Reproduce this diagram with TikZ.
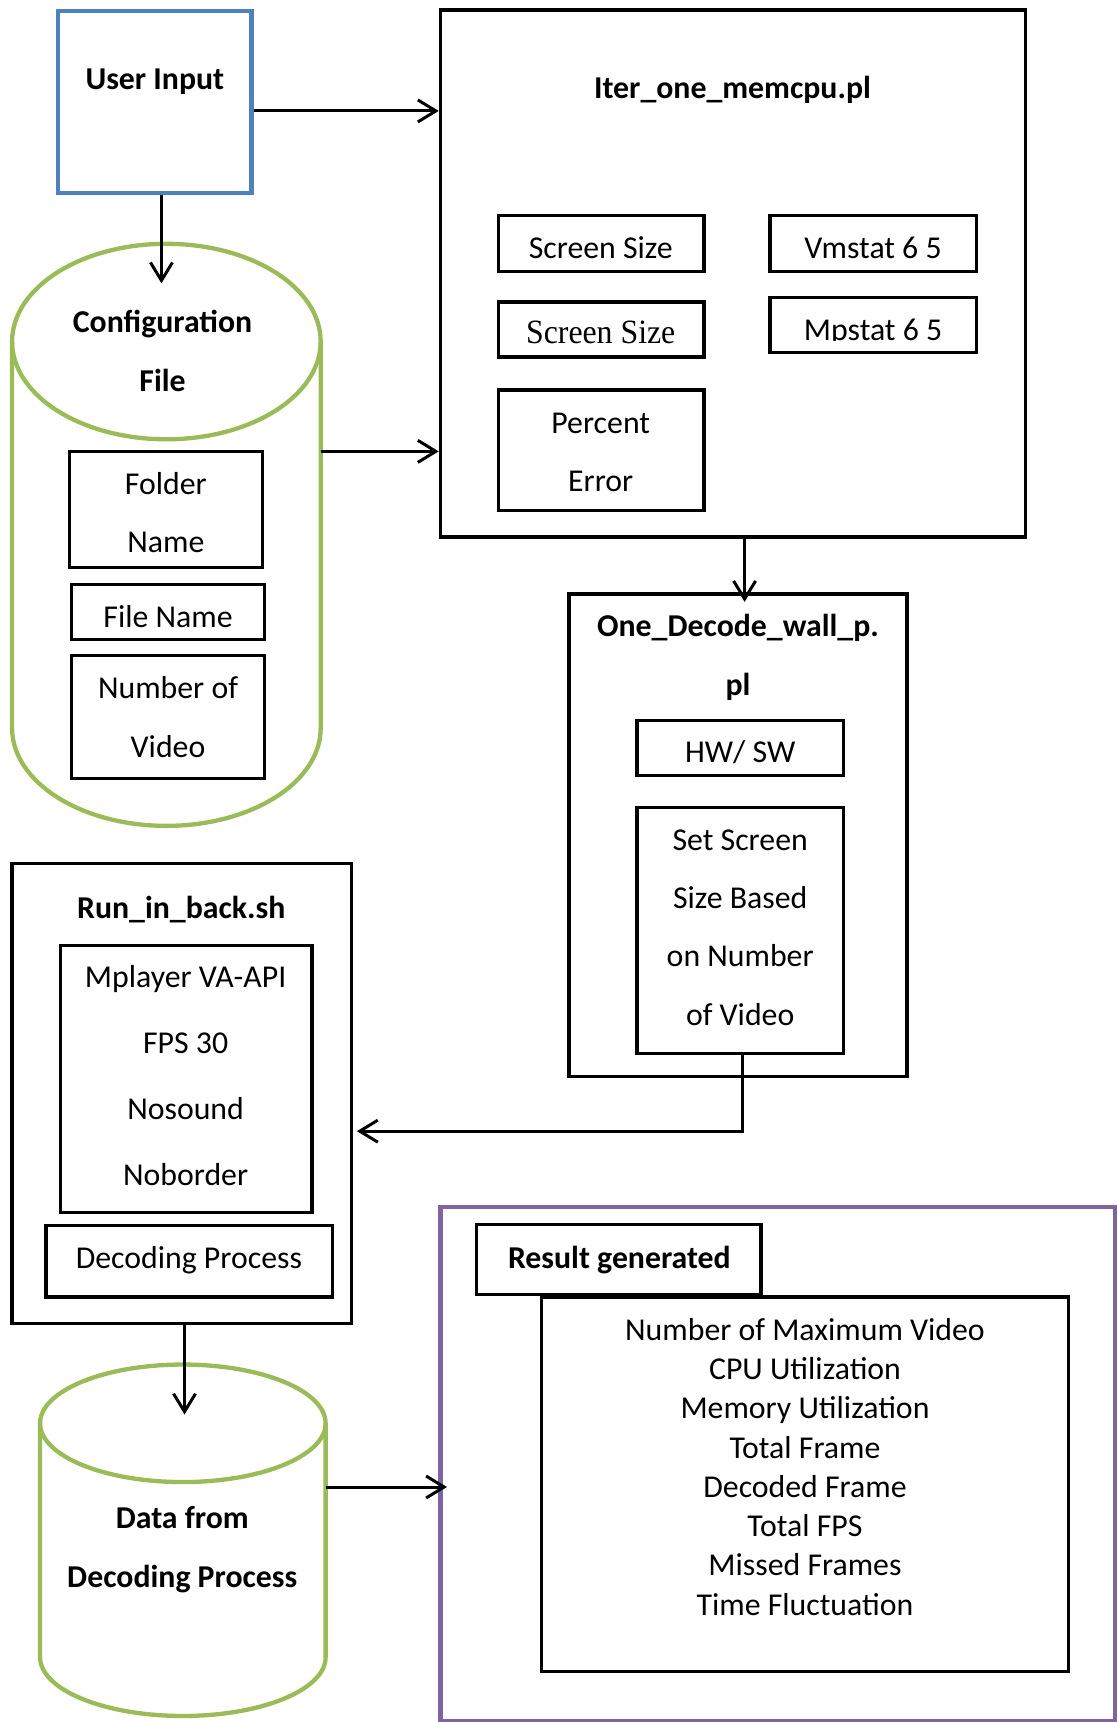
\documentclass[tikz,border=0pt]{standalone}
\usepackage{fontspec}
\setmainfont{Carlito}
\newfontfamily\timesfont{Liberation Serif}
\usetikzlibrary{arrows.meta,fit}
\definecolor{uiblue}{HTML}{4F81BD}
\definecolor{cylgreen}{HTML}{9BBB59}
\definecolor{respurple}{HTML}{8064A2}
\begin{document}
\begin{tikzpicture}[x=0.5491pt,y=-0.5491pt,
  box/.style={draw, line width=1.65pt, inner sep=0pt},
  txt/.style={inner sep=0pt, font=\fontsize{15.9}{19}\selectfont, text height=10.25pt, text depth=0pt},
  ttl/.style={txt, font=\fontsize{15.9}{19}\selectfont\bfseries},
  cyl/.style={draw=cylgreen, line width=2.15pt},
  arr/.style={line width=1.5pt, -{Straight Barb[length=9pt,width=11pt]}}]
\useasboundingbox (0,0) rectangle (1018,1568);

% ---- user input ----
\node[box, fit={(53,10) (229,176)}, draw=uiblue, line width=2.15pt] (ui) {};
\node[ttl] (uit) at (141,72) {User Input};

% ---- configuration file (cylinder) ----
\draw[cyl] (151.5,311) ellipse [x radius=140.5, y radius=89];
\draw[cyl] (11,311) -- (11,663) arc [start angle=180, end angle=0, x radius=140.5, y radius=89] -- (292,311);
\node[inner sep=0pt, fit={(11,222) (292,752)}] (cfg) {};
\node[ttl] (cfgt1) at (148,293) {Configuration};
\node[ttl] (cfgt2) at (148,347) {File};

\node[box, fit={(63,411) (239,517)}] (folder) {};
\node[txt] (foldert1) at (151,441) {Folder};
\node[txt] (foldert2) at (151,494) {Name};
\node[box, fit={(65,532) (241,582)}] (file) {};
\node[txt] (filet) at (153,562) {File Name};
\node[box, fit={(65,597) (241,709)}] (nvid) {};
\node[txt] (nvidt1) at (153,627) {Number of};
\node[txt] (nvidt2) at (153,680) {Video};

% ---- Iter_one_memcpu.pl ----
\node[box, fit={(401,9) (934,489)}] (iter) {};
\node[ttl] (itert) at (667,80) {Iter\_one\_memcpu.pl};
\node[box, fit={(454,196) (641,247)}] (ss1) {};
\node[txt] (ss1t) at (547,226) {Screen Size};
\node[box, fit={(454,275) (641,325)}] (ss2) {};
\node[txt, font=\fontsize{15.9}{19}\selectfont\timesfont] (ss2t) at (547,303.5) {\scalebox{1}[1.07]{Screen Size}};
\node[box, fit={(454,355) (641,465)}] (perr) {};
\node[txt] (perrt1) at (547,385) {Percent};
\node[txt] (perrt2) at (547,438) {Error};
\node[box, fit={(701,196) (889,247)}] (vm) {};
\node[txt] (vmt) at (795,226) {Vmstat 6 5};
\node[box, fit={(701,271) (889,321)}] (mp) {};
\begin{scope}
  \clip (701,271) rectangle (889,310.3);
  \node[txt] (mpt) at (795,301) {Mpstat 6 5};
\end{scope}

% ---- One_Decode_wall_p.pl ----
\node[box, fit={(518,541) (826,980)}] (od) {};
\node[ttl] (odt1) at (672,570) {One\_Decode\_wall\_p.};
\node[ttl] (odt2) at (672,624) {pl};
\node[box, fit={(580,656) (768,706)}] (hw) {};
\node[txt] (hwt) at (674,685) {HW/ SW};
\node[box, fit={(580,735) (768,959)}] (set) {};
\node[txt] (sett1) at (674,765) {Set Screen};
\node[txt] (sett2) at (674,818) {Size Based};
\node[txt] (sett3) at (674,871) {on Number};
\node[txt] (sett4) at (674,924) {of Video};

% ---- Run_in_back.sh ----
\node[box, fit={(11,786) (320,1205)}] (run) {};
\node[ttl] (runt) at (165,827) {Run\_in\_back.sh};
\node[box, fit={(55,861) (284,1104)}] (mpl) {};
\node[txt] (mplt1) at (169,890) {Mplayer VA-API};
\node[txt] (mplt2) at (169,950) {FPS 30};
\node[txt] (mplt3) at (169,1010) {Nosound};
\node[txt] (mplt4) at (169,1070) {Noborder};
\node[box, fit={(42,1116) (303,1181)}] (dec) {};
\node[txt] (dect) at (172,1146) {Decoding Process};

% ---- data from decoding process (cylinder) ----
\draw[cyl] (166.5,1296) ellipse [x radius=130, y radius=53.5];
\draw[cyl] (36.5,1296) -- (36.5,1509) arc [start angle=180, end angle=0, x radius=130, y radius=53.5] -- (296.5,1296);
\node[inner sep=0pt, fit={(36.5,1242.5) (296.5,1562.5)}] (data) {};
\node[ttl] (datat1) at (166,1382) {Data from};
\node[ttl] (datat2) at (166,1436) {Decoding Process};

% ---- results ----
\node[box, fit={(401,1099) (1015.3,1567.5)}, draw=respurple, line width=2.15pt] (res) {};
\node[box, fit={(434,1115) (693,1179)}] (resgen) {};
\node[ttl] (resgent) at (564,1146) {Result generated};
\node[box, fit={(493,1181) (973,1522)}] (list) {};
\foreach \t [count=\i] in {Number of Maximum Video, CPU Utilization, Memory Utilization,
    Total Frame, Decoded Frame, Total FPS, Missed Frames, Time Fluctuation}
  \node[txt] (item\i) at (733,{1211+(\i-1)*35.76}) {\t};

% ---- connectors ----
\coordinate (uiout) at (231,101);
\draw[arr] (uiout) -- (uiout -| iter.west);
\coordinate (cfgin) at (147,258);
\draw[arr] (cfgin |- ui.south) -- (cfgin);
\coordinate (cfgout) at (292,411);
\draw[arr] (cfgout) -- (cfgout -| iter.west);
\coordinate (odin) at (678,548);
\draw[arr] (odin |- iter.south) -- (odin);
\coordinate (bend) at (676,1030);
\coordinate (runin) at (325,1030);
\draw[arr] (bend |- set.south) -- (bend) -- (runin);
\coordinate (datain) at (168,1288);
\draw[arr] (datain |- run.south) -- (datain);
\coordinate (dataout) at (297,1354);
\coordinate (resin) at (407,1354);
\draw[arr] (dataout) -- (resin);
\end{tikzpicture}
\end{document}
